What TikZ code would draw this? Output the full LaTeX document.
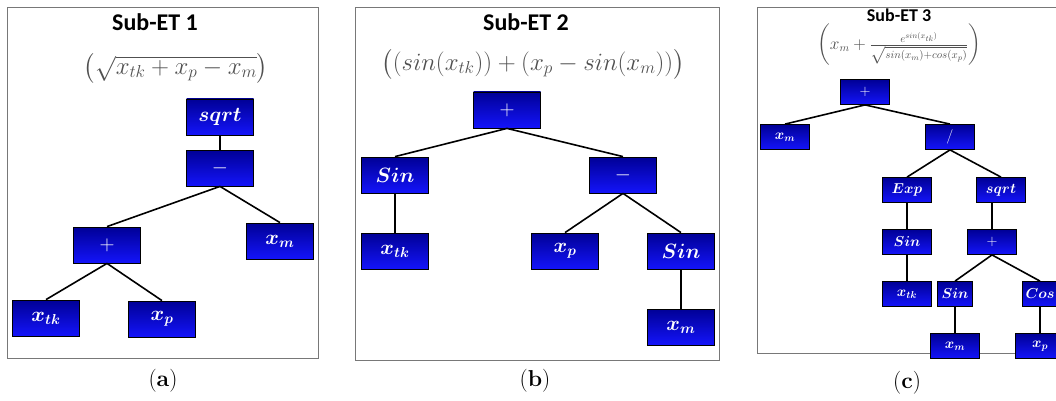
\documentclass[tikz,border=0pt]{standalone}
\usepackage{fontspec}
\usepackage{amsmath}
\usepackage{bm}
\newfontfamily\titlefont{Carlito}
\definecolor{boxtop}{RGB}{0,0,150}
\definecolor{boxbot}{RGB}{20,20,250}
\definecolor{fgray}{RGB}{80,80,80}
\definecolor{framec}{RGB}{120,120,120}
\begin{document}
\begin{tikzpicture}[x=1pt,y=-1pt,
  opbox/.style={draw=black,line width=0.8pt,top color=boxtop,bottom color=boxbot,text=white,
    minimum width=67pt,minimum height=36pt,inner sep=0pt,font=\fontsize{21}{23}\selectfont},
  smallbox/.style={opbox,minimum width=49pt,minimum height=25pt,font=\fontsize{14}{16}\selectfont},
  treelink/.style={line width=1.6pt},
  panelframe/.style={draw=framec,line width=0.9pt},
  paneltitle/.style={inner sep=0pt,font=\titlefont\bfseries\fontsize{24}{26}\selectfont},
  formula/.style={text=fgray,inner sep=0pt},
  captext/.style={font=\fontsize{23}{25}\selectfont}]
\useasboundingbox (0,0) rectangle (1056,401);
% frames
\draw[panelframe] (7,7) rectangle (318,358);
\draw[panelframe] (355,7) rectangle (719,360);
\draw[panelframe] (757,7) rectangle (1070,353);
% ---------- panel (a)
\node[paneltitle] (ta) at (155,22) {Sub-ET 1};
\node[formula,font=\fontsize{24}{26}\selectfont] (fa) at (176,68) {$\left(\sqrt{x_{tk}+x_p-x_m}\right)$};
\node[opbox] (a1) at (220,117) {$\bm{sqrt}$};
\node[opbox] (a2) at (220,168) {$-$};
\node[opbox] (a3) at (107,245) {$+$};
\node[opbox] (a4) at (280,241) {$\bm{x_m}$};
\node[opbox] (a5) at (46,318) {$\bm{x_{tk}}$};
\node[opbox] (a6) at (162,319) {$\bm{x_p}$};
\draw[treelink] (a1.south) -- (a2.north);
\draw[treelink] (a2.south) -- (a3.north);
\draw[treelink] (a2.south) -- (a4.north);
\draw[treelink] (a3.south) -- (a5.north);
\draw[treelink] (a3.south) -- (a6.north);
\node[captext] (ca) at (163,381) {(\textbf{a})};
% ---------- panel (b)
\node[paneltitle] (tb) at (526,22) {Sub-ET 2};
\node[formula,font=\fontsize{23}{25}\selectfont] (fb) at (533,64) {$\big((sin(x_{tk}))+(x_p-sin(x_m))\big)$};
\node[opbox] (b1) at (507,110) {$+$};
\node[opbox] (b2) at (395,175) {$\bm{Sin}$};
\node[opbox] (b3) at (623,175) {$-$};
\node[opbox] (b4) at (395,251) {$\bm{x_{tk}}$};
\node[opbox] (b5) at (565,251) {$\bm{x_p}$};
\node[opbox] (b6) at (681,251) {$\bm{Sin}$};
\node[opbox] (b7) at (681,327) {$\bm{x_m}$};
\draw[treelink] (b1.south) -- (b2.north);
\draw[treelink] (b1.south) -- (b3.north);
\draw[treelink] (b2.south) -- (b4.north);
\draw[treelink] (b3.south) -- (b5.north);
\draw[treelink] (b3.south) -- (b6.north);
\draw[treelink] (b6.south) -- (b7.north);
\node[captext] (cb) at (535,381) {(\textbf{b})};
% ---------- panel (c)
\node[formula,font=\fontsize{16}{18}\selectfont] (fc) at (899,45) {$\left(x_m+\frac{e^{sin(x_{tk})}}{\sqrt{sin(x_m)+cos(x_p)}}\right)$};
\node[paneltitle,font=\titlefont\bfseries\fontsize{18}{20}\selectfont] (tc) at (899,15) {Sub-ET 3};
\node[smallbox] (c1) at (865,92) {$+$};
\node[smallbox] (c2) at (785,137) {$\bm{x_m}$};
\node[smallbox] (c3) at (950,137) {$/$};
\node[smallbox] (c4) at (907,190) {$\bm{Exp}$};
\node[smallbox] (c5) at (1001,190) {$\bm{sqrt}$};
\node[smallbox] (c6) at (907,242) {$\bm{Sin}$};
\node[smallbox] (c7) at (992,242) {$+$};
\node[smallbox] (c8) at (907,294) {$\bm{x_{tk}}$};
\node[smallbox,minimum width=35pt] (c9) at (955,294) {$\bm{Sin}$};
\node[smallbox,minimum width=35pt] (c10) at (1040,294) {$\bm{Cos}$};
\node[smallbox] (c11) at (955,346) {$\bm{x_m}$};
\node[smallbox] (c12) at (1040,346) {$\bm{x_p}$};
\draw[treelink] (c1.south) -- (c2.north);
\draw[treelink] (c1.south) -- (c3.north);
\draw[treelink] (c3.south) -- (c4.north);
\draw[treelink] (c3.south) -- (c5.north);
\draw[treelink] (c4.south) -- (c6.north);
\draw[treelink] (c7.north |- c5.south) -- (c7.north);
\draw[treelink] (c6.south) -- (c8.north);
\draw[treelink] (c7.south) -- (c9.north);
\draw[treelink] (c7.south) -- (c10.north);
\draw[treelink] (c9.south) -- (c11.north);
\draw[treelink] (c10.south) -- (c12.north);
\node[captext] (cc) at (907,383) {(\textbf{c})};
\end{tikzpicture}
\end{document}
